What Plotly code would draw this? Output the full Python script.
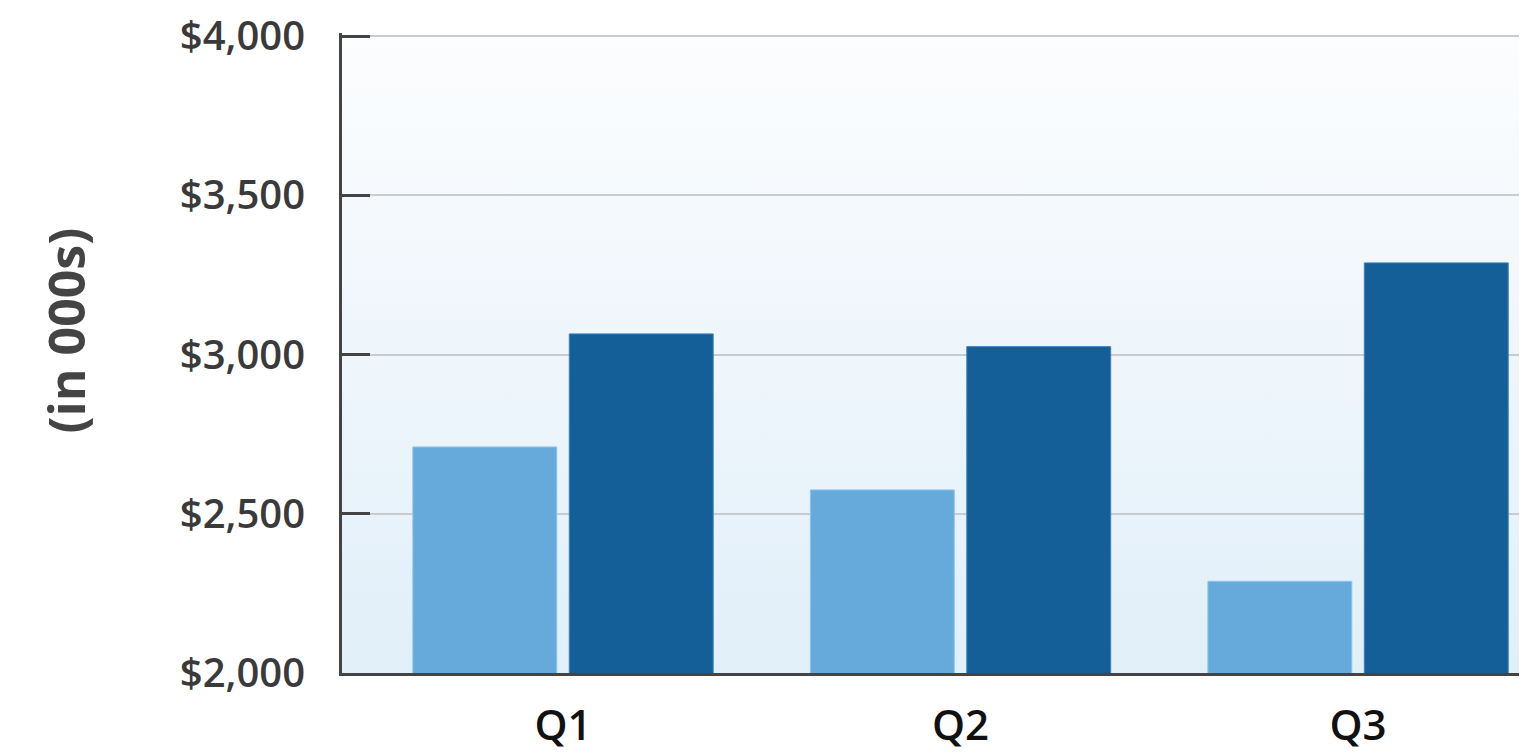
import plotly.graph_objects as go

quarters = ["Q1", "Q2", "Q3"]
series_a = [2710, 2575, 2288]   # light blue
series_b = [3065, 3025, 3288]   # dark blue
y_ticks = [2000, 2500, 3000, 3500, 4000]
y_tick_labels = ["$2,000", "$2,500", "$3,000", "$3,500", "$4,000"]

bg_svg = (
    "data:image/svg+xml;utf8,"
    "<svg xmlns='http://www.w3.org/2000/svg' width='100' height='100' preserveAspectRatio='none'>"
    "<defs><linearGradient id='g' x1='0' y1='0' x2='0' y2='1'>"
    "<stop offset='0' stop-color='%23fcfdfe'/><stop offset='1' stop-color='%23e1eff9'/>"
    "</linearGradient></defs><rect width='100' height='100' fill='url(%23g)'/></svg>"
)

fig = go.Figure()
fig.add_trace(go.Bar(x=quarters, y=series_a, name="A",
                     marker=dict(color="#66aadb", line=dict(color="#8cc6ea", width=1))))
fig.add_trace(go.Bar(x=quarters, y=series_b, name="B",
                     marker=dict(color="#155f98", line=dict(color="#3b80bd", width=1))))

fig.add_layout_image(dict(source=bg_svg, xref="paper", yref="paper", x=0, y=1,
                          sizex=1, sizey=1, sizing="stretch", layer="below", xanchor="left", yanchor="top"))

fig.add_annotation(text="<b>(in 000s)</b>", xref="paper", yref="paper",
                   x=-0.233, y=0.535, xanchor="center", yanchor="middle",
                   textangle=-90, showarrow=False,
                   font=dict(size=50, color="#444444", family="Open Sans"))

fig.update_layout(
    width=1519, height=745,
    margin=dict(l=334, r=0, t=25, b=80, autoexpand=False),
    paper_bgcolor="white",
    plot_bgcolor="rgba(0,0,0,0)",
    barmode="group",
    bargap=0.213,
    bargroupgap=0.08,
    showlegend=False,
    font=dict(family="Open Sans", color="#3a3a3a"),
)
fig.update_xaxes(
    range=[-0.556, 2.425],
    showline=True, linecolor="#444444", linewidth=3,
    showgrid=False, ticks="",
    tickfont=dict(size=42, color="#111111", family="Open Sans", weight=600),
    ticklabelstandoff=14,
)
fig.update_yaxes(
    range=[2000, 4010],
    tickvals=y_ticks, ticktext=y_tick_labels,
    showline=True, linecolor="#444444", linewidth=3,
    ticks="inside", ticklen=28, tickwidth=3, tickcolor="#444444",
    showgrid=True, gridcolor="#c9ccce", gridwidth=2,
    zeroline=False,
    tickfont=dict(size=40, color="#3a3a3a", family="Open Sans", weight=600),
    ticklabelstandoff=26,
    ticklabeloverflow="allow",
)

fig.write_html("out.html")
